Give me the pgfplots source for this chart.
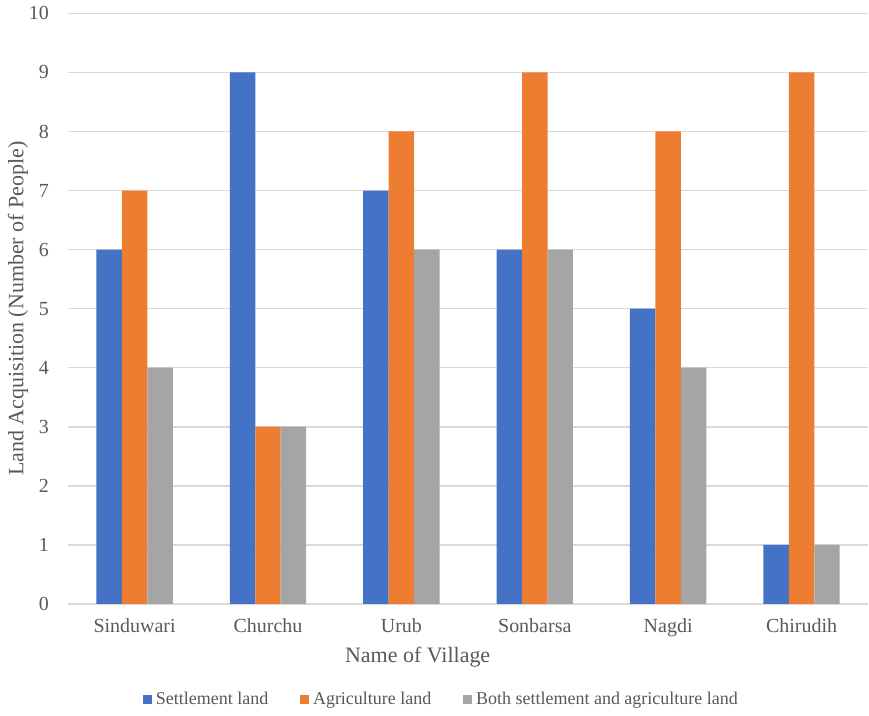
\documentclass[border=0pt]{standalone}
\usepackage{fontspec}
\setmainfont{Liberation Serif}
\usepackage{pgfplots}
\pgfplotsset{compat=1.18}
\definecolor{cblue}{HTML}{4472C4}
\definecolor{corange}{HTML}{ED7D31}
\definecolor{cgray}{HTML}{A5A5A5}
\definecolor{gridc}{HTML}{D9D9D9}
\definecolor{txt}{HTML}{595959}
\begin{document}
\begin{tikzpicture}
\begin{axis}[
  scale only axis,
  width=400.5pt, height=295.5pt,
  ybar=0pt, bar width=12.75pt,
  xmin=-0.5, xmax=5.5, ymin=0, ymax=10,
  ytick={0,1,...,10},
  xtick={0,...,5},
  xticklabels={Sinduwari,Churchu,Urub,Sonbarsa,Nagdi,Chirudih},
  axis x line*=bottom, axis y line*=left,
  x axis line style={gridc, line width=0.8pt, -},
  y axis line style={draw=none},
  ymajorgrids, grid style={gridc, line width=0.8pt},
  major tick length=0pt,
  tick label style={font=\fontsize{10}{12}\selectfont, text=txt},
  /pgf/number format/assume math mode=true,
  xticklabel style={yshift=-4pt},
  yticklabel style={xshift=-6pt},
  ylabel={Land Acquisition (Number of People)},
  xlabel={Name of Village},
  label style={font=\fontsize{11}{13}\selectfont, text=txt},
  xlabel style={at={(axis description cs:0.437,-0.0897)}, anchor=center},
  ylabel style={at={(axis description cs:-0.0624,0.5)}, anchor=center},
  legend style={at={(axis description cs:0.468,-0.162)}, anchor=center, draw=none,
    legend columns=-1, font=\fontsize{9}{11}\selectfont, text=txt,
    /tikz/every even column/.append style={column sep=14pt}},
  legend image code/.code={\fill[#1] (0pt,-2.2pt) rectangle (4.4pt,2.2pt);},
  clip=false,
]
\addplot[fill=cblue, draw=none] coordinates {(0,6) (1,9) (2,7) (3,6) (4,5) (5,1)};
\addplot[fill=corange, draw=none] coordinates {(0,7) (1,3) (2,8) (3,9) (4,8) (5,9)};
\addplot[fill=cgray, draw=none] coordinates {(0,4) (1,3) (2,6) (3,6) (4,4) (5,1)};
\legend{Settlement land, Agriculture land, Both settlement and agriculture land}
\coordinate (bl) at (rel axis cs:-0.0849,-0.1861);
\coordinate (tr) at (rel axis cs:1,1.022);
\end{axis}
\path (bl) rectangle (tr);
\end{tikzpicture}
\end{document}
